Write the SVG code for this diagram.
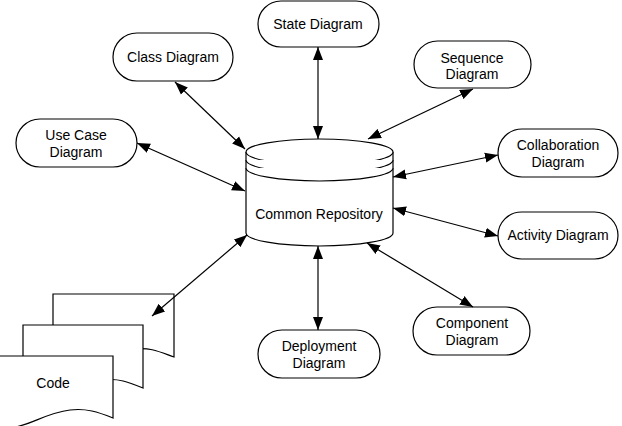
<svg xmlns="http://www.w3.org/2000/svg" width="622" height="426" viewBox="0 0 622 426">
<style>
.n{fill:#fff;stroke:#000;stroke-width:1.2}
.t{font-family:"Liberation Sans",Arial,sans-serif;font-size:14px;fill:#000;text-anchor:middle}
.c{stroke:#000;stroke-width:1.2;fill:none;marker-start:url(#ah);marker-end:url(#ah)}
</style>
<defs>
<marker id="ah" markerUnits="userSpaceOnUse" markerWidth="14" markerHeight="11" refX="13" refY="5" orient="auto-start-reverse" viewBox="0 0 14 10">
<path d="M0,0 L13,5 L0,10 z" fill="#000"/>
</marker>
</defs>
<rect width="622" height="426" fill="#fff"/>
<g id="code">
<path class="n" d="M53,294 H174 V357 C160,352 150,347 135,349 C115,351 105,362 85,362 L53,362 Z"/>
<path class="n" d="M23,325 H143 V388 C128,382 118,378 104,380 C84,383 74,393 54,393 L23,393 Z"/>
<path class="n" d="M-8,356 H113 V418 C98,412 86,408 70,410 C45,413 30,426 10,428 L-8,428 Z"/>
<text class="t" x="53" y="388">Code</text>
</g>
<g id="repo">
<path class="n" d="M246,152 V233 A73.5,13 0 0 0 393,233 V152"/>
<ellipse class="n" cx="319.5" cy="152" rx="73.5" ry="13"/>
<path class="n" d="M246,160 A73.5,13 0 0 0 393,160" fill="none"/>
<path class="n" d="M246,168 A73.5,13 0 0 0 393,168" fill="none"/>
<text class="t" x="319" y="219">Common Repository</text>
</g>
<g id="state"><rect class="n" x="258" y="1" width="121" height="46" rx="23"/><text class="t" x="318" y="29">State Diagram</text></g>
<g id="class"><rect class="n" x="113" y="33" width="120" height="48" rx="24"/><text class="t" x="173" y="62">Class Diagram</text></g>
<g id="usecase"><rect class="n" x="16" y="119" width="121" height="48" rx="24"/><text class="t" x="76" y="140">Use Case</text><text class="t" x="76" y="157">Diagram</text></g>
<g id="sequence"><rect class="n" x="414" y="41" width="117" height="47" rx="23.5"/><text class="t" x="472" y="63">Sequence</text><text class="t" x="472" y="79">Diagram</text></g>
<g id="collab"><rect class="n" x="498" y="129" width="120" height="48" rx="24"/><text class="t" x="558" y="150">Collaboration</text><text class="t" x="558" y="167">Diagram</text></g>
<g id="activity"><rect class="n" x="498" y="212" width="120" height="47" rx="23.5"/><text class="t" x="558" y="240">Activity Diagram</text></g>
<g id="component"><rect class="n" x="413" y="307" width="117" height="48" rx="24"/><text class="t" x="472" y="328">Component</text><text class="t" x="472" y="345">Diagram</text></g>
<g id="deploy"><rect class="n" x="258" y="330" width="122" height="48" rx="24"/><text class="t" x="319" y="351">Deployment</text><text class="t" x="319" y="368">Diagram</text></g>
<g id="connectors">
<line class="c" x1="318" y1="47" x2="318" y2="139"/>
<line class="c" x1="175" y1="82" x2="245" y2="149"/>
<line class="c" x1="137" y1="143" x2="245" y2="191"/>
<line class="c" x1="473" y1="89" x2="368" y2="139"/>
<line class="c" x1="498" y1="155" x2="393" y2="177"/>
<line class="c" x1="498" y1="236" x2="393" y2="208"/>
<line class="c" x1="473" y1="307" x2="367" y2="243"/>
<line class="c" x1="318" y1="330" x2="318" y2="246"/>
<line class="c" x1="247" y1="235" x2="152" y2="316"/>
</g>
</svg>
